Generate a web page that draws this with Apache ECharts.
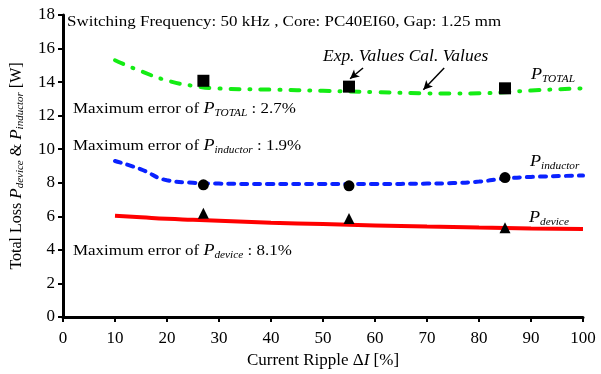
<!DOCTYPE html>
<html><head><meta charset="utf-8">
<script src="https://cdn.jsdelivr.net/npm/echarts@6/dist/echarts.min.js"></script>
<style>html,body{margin:0;padding:0;background:#fff}#c{width:601px;height:374px}</style>
</head><body><div id="c"></div>
<script>
var xCal = [10, 15, 20, 25, 30, 40, 50, 60, 70, 75, 80, 85, 90, 100];
var totalCal = [15.3, 14.65, 14.1, 13.78, 13.62, 13.55, 13.48, 13.4, 13.33, 13.32, 13.33, 13.4, 13.5, 13.63];
var inductorCal = [9.3, 8.8, 8.15, 8.0, 7.95, 7.93, 7.93, 7.93, 7.95, 7.98, 8.07, 8.25, 8.35, 8.43];
var deviceCal = [6.03, 5.94, 5.85, 5.79, 5.73, 5.62, 5.54, 5.46, 5.39, 5.36, 5.33, 5.31, 5.28, 5.24];
var xExp = [27, 55, 85];
var totalExp = [14.08, 13.73, 13.63];
var inductorExp = [7.88, 7.82, 8.31];
var deviceExp = [6.19, 5.87, 5.32];
var arrows = [[[57.7, 14.84], [55.2, 14.2]], [[73.3, 14.84], [69.3, 13.55]]];

function pairs(xs, ys) { return xs.map(function (x, i) { return [x, ys[i]]; }); }
var FF = '"Liberation Serif", "Times New Roman", serif';
function mkRich(n, i, s) {
  return {
    n: { fontFamily: FF, fontSize: n, color: '#000', lineHeight: n + 3 },
    i: { fontFamily: FF, fontSize: i, fontStyle: 'italic', color: '#000', lineHeight: n + 3 },
    s: { fontFamily: FF, fontSize: s, fontStyle: 'italic', color: '#000', verticalAlign: 'bottom', lineHeight: s + 1 }
  };
}
var rich = mkRich(15, 16, 10);
function txt(x, y, t, sx) {
  return { type: 'text', x: x, y: y, scaleX: sx || 1.13, silent: true, style: { text: t, rich: rich, fill: '#000' } };
}
var chart = echarts.init(document.getElementById('c'));
chart.setOption({
  animation: false,
  grid: { left: 58, right: 18, top: 15, bottom: 57 },
  xAxis: {
    type: 'value', min: 0, max: 100, interval: 10,
    name: '{n|Current Ripple Δ}{i|I}{n| [%]}', nameLocation: 'middle', nameGap: 31,
    nameTextStyle: { rich: mkRich(17, 17, 11) },
    axisLine: { lineStyle: { color: '#000', width: 3 } },
    axisTick: { length: 5, lineStyle: { color: '#000', width: 2 } },
    axisLabel: { fontFamily: FF, fontSize: 17, color: '#000', margin: 13 },
    splitLine: { show: false }
  },
  yAxis: {
    type: 'value', min: 0, max: 18, interval: 2,
    name: '{n|Total Loss }{i|P}{s|device}{n| & }{i|P}{s|inductor}{n| [W]}', nameLocation: 'middle', nameGap: 37,
    nameTextStyle: { rich: mkRich(16, 17, 11) },
    axisLine: { show: true, lineStyle: { color: '#000', width: 3 } },
    axisTick: { show: true, length: 5, lineStyle: { color: '#000', width: 2 } },
    axisLabel: { fontFamily: FF, fontSize: 17, color: '#000', margin: 8 },
    splitLine: { show: false }
  },
  series: [
    { type: 'line', data: pairs(xCal, totalCal), smooth: true, showSymbol: false, z: 2,
      lineStyle: { color: '#14ec14', width: 4, type: [9, 10, 1, 10], cap: 'round' } },
    { type: 'line', data: pairs(xCal, inductorCal), smooth: true, showSymbol: false, z: 2,
      lineStyle: { color: '#0a22ff', width: 4, type: [6, 7], cap: 'round' } },
    { type: 'line', data: pairs(xCal, deviceCal), smooth: true, showSymbol: false, z: 2,
      lineStyle: { color: '#ff0000', width: 4 } },
    { type: 'scatter', data: pairs(xExp, totalExp), symbol: 'rect', symbolSize: 12, z: 5,
      itemStyle: { color: '#000', opacity: 1 },
      markLine: { silent: true, symbol: ['none', 'arrow'], symbolSize: [7, 9], label: { show: false },
        lineStyle: { color: '#000', width: 1.5, type: 'solid', opacity: 1 },
        data: arrows.map(function (a) { return [{ coord: a[0] }, { coord: a[1] }]; }) } },
    { type: 'scatter', data: pairs(xExp, inductorExp), symbol: 'circle', symbolSize: 11, z: 5,
      itemStyle: { color: '#000', opacity: 1 } },
    { type: 'scatter', data: pairs(xExp, deviceExp), symbol: 'triangle', symbolSize: 11, z: 5,
      itemStyle: { color: '#000', opacity: 1 } }
  ],
  graphic: [
    txt(67, 13, '{n|Switching Frequency: 50 kHz , Core: PC40EI60, Gap: 1.25 mm}'),
    txt(323, 48, '{i|Exp. Values Cal. Values}', 1.09),
    txt(531, 66, '{i|P}{s|TOTAL}'),
    txt(73, 100, '{n|Maximum error of }{i|P}{s|TOTAL}{n| : 2.7%}'),
    txt(73, 137, '{n|Maximum error of }{i|P}{s|inductor}{n| : 1.9%}'),
    txt(530, 153, '{i|P}{s|inductor}'),
    txt(529, 209, '{i|P}{s|device}'),
    txt(73, 242, '{n|Maximum error of }{i|P}{s|device}{n| : 8.1%}')
  ]
});
</script></body></html>
